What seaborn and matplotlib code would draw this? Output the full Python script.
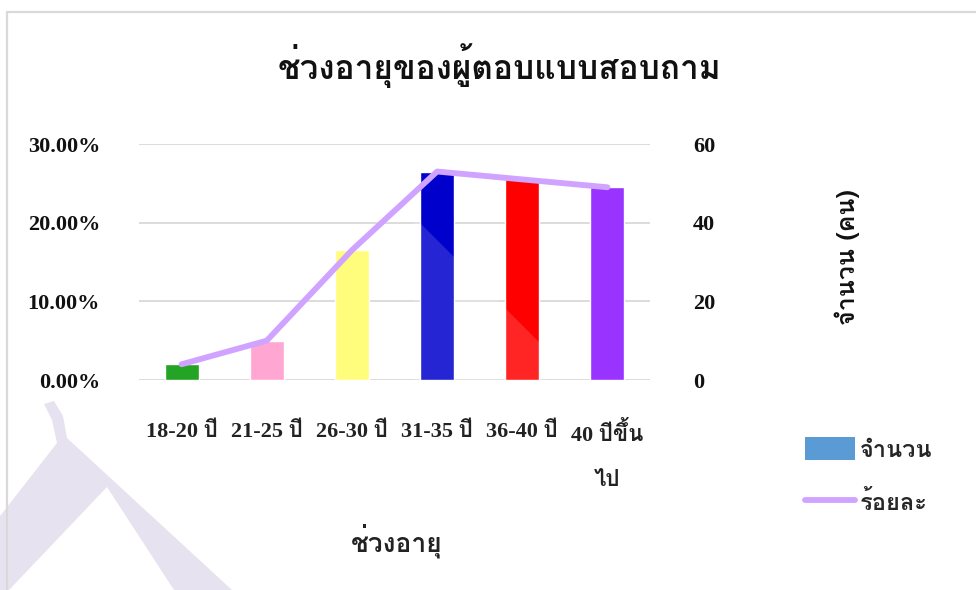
import matplotlib
matplotlib.use("Agg")
import matplotlib.pyplot as plt
from matplotlib import font_manager
from matplotlib.patches import Patch, Polygon, Rectangle
from matplotlib.lines import Line2D
import pandas as pd
import seaborn as sns

# ---- data -------------------------------------------------------------
age_groups = ["18-20 ปี", "21-25 ปี", "26-30 ปี", "31-35 ปี", "36-40 ปี", "40 ปีขึ้น\nไป"]
counts = [4, 10, 33, 53, 51, 49]                  # respondents (right axis)
percents = [2.0, 5.0, 16.5, 26.5, 25.5, 24.5]     # share of 200 respondents (left axis)
bar_colors = ["#24A424", "#FFA6D2", "#FFFD7B", "#0000CC", "#FF0000", "#9933FF"]
pct_ticks = [0, 10, 20, 30]
pct_labels = ["0.00%", "10.00%", "20.00%", "30.00%"]
count_ticks = [0, 20, 40, 60]

title = "ช่วงอายุของผู้ตอบแบบสอบถาม"
x_title = "ช่วงอายุ"
y_title = "จำนวน (คน)"
legend_labels = ["จำนวน", "ร้อยละ"]

LINE_COLOR = "#CFA3FF"
GRID_COLOR = "#D9D9D9"


def find_thai_family():
    """Return the family name of an installed font that covers Thai,
    preferring families that ship a bold face."""
    try:
        from fontTools.ttLib import TTFont
    except Exception:
        return None
    covers = {}
    for entry in font_manager.fontManager.ttflist:
        path = entry.fname
        if path in covers:
            continue
        ok = False
        try:
            f = TTFont(path, fontNumber=0, lazy=True)
            cmap = f.getBestCmap() or {}
            ok = all(cp in cmap for cp in (0x0E0A, 0x0E48, 0x0E33, 0x0E49))
            f.close()
        except Exception:
            ok = False
        covers[path] = ok
    fams = {}
    for e in font_manager.fontManager.ttflist:
        if covers.get(e.fname):
            w = e.weight if isinstance(e.weight, int) else 400
            fams.setdefault(e.name, set()).add(w)
    if not fams:
        return None
    preferred = ["TH Sarabun New", "TH SarabunPSK", "Angsana New", "Laksaman",
                 "Noto Serif Thai", "Norasi", "Noto Sans Thai", "Garuda", "Loma",
                 "Kinnari", "Sarabun", "Waree", "Sawasdee", "Umpush"]
    ranked = sorted(fams, key=lambda n: (max(fams[n]) < 600,
                                         preferred.index(n) if n in preferred else 99, n))
    return ranked[0]


thai = find_thai_family()
serif = ["Liberation Serif"] + ([thai] if thai else []) + ["DejaVu Sans"]
thai_first = ([thai] if thai else []) + ["Liberation Serif", "DejaVu Sans"]

sns.set_theme(style="white")
plt.rcParams["font.family"] = serif

W, H = 976, 590
fig = plt.figure(figsize=(W / 100, H / 100), dpi=100)
fig.patch.set_facecolor("white")


def px(x, y):
    return x / W, 1 - y / H


# faint lavender emblem in the lower-left corner
emblem = [(44, 404), (54, 401), (63, 416), (67, 438), (232, 590), (174, 590),
          (107, 487), (9, 590), (0, 590), (0, 516), (57, 443), (52, 420)]
fig.patches.append(Polygon([px(*p) for p in emblem], closed=True,
                           transform=fig.transFigure, facecolor="#E7E2F0",
                           edgecolor="none", zorder=0))
# chart frame
fig.patches.append(Rectangle(px(7, 600), (W + 20) / W, (600 - 12) / H,
                             transform=fig.transFigure, facecolor="none",
                             edgecolor=GRID_COLOR, linewidth=1.6, zorder=1))

# ---- axes ---------------------------------------------------------------
left, right, top, bottom = 139, 650, 144, 380
ax = fig.add_axes([left / W, 1 - bottom / H, (right - left) / W, (bottom - top) / H])
ax.set_facecolor("none")

df = pd.DataFrame({"age": age_groups, "count": counts, "pct": percents})

sns.barplot(data=df, x="age", y="count", hue="age", palette=bar_colors,
            width=0.4, saturation=1, legend=False, ax=ax, zorder=2)
ax.set_ylim(0, 60)
ax.set_yticks(count_ticks)
ax.yaxis.grid(True, color=GRID_COLOR, linewidth=1.3)
ax.set_axisbelow(True)

ax2 = ax.twinx()
sns.lineplot(data=df, x="age", y="pct", sort=False, color=LINE_COLOR,
             linewidth=4.2, ax=ax2)
for ln in ax2.lines:
    ln.set_solid_capstyle("round")
    ln.set_solid_joinstyle("round")
ax2.set_ylim(0, 30)
ax2.set_yticks(pct_ticks)
ax2.set_yticklabels(pct_labels)
ax2.grid(False)

# counts on the right, percentages on the left
ax.yaxis.tick_right()
ax2.yaxis.tick_left()

for a in (ax, ax2):
    for s in a.spines.values():
        s.set_visible(False)
    a.tick_params(length=0)
    a.set_xlabel("")
    a.set_ylabel("")

ax.set_xlim(-0.5, len(age_groups) - 0.5)
ax.tick_params(axis="x", pad=30)
ax.tick_params(axis="y", pad=31)
ax2.tick_params(axis="y", pad=28)

for lab in ax.get_yticklabels() + ax2.get_yticklabels():
    lab.set_fontsize(16)
    lab.set_fontweight("bold")
    lab.set_color("#111111")
for lab in ax.get_xticklabels():
    lab.set_fontsize(16)
    lab.set_fontweight("bold")
    lab.set_color("#222222")
    lab.set_linespacing(2.7)

# translucent sheen crossing the two tallest bars
sheen = [(414, 217), (546, 349), (546, 380), (414, 380)]
fig.patches.append(Polygon([px(*p) for p in sheen], closed=True,
                           transform=fig.transFigure, facecolor="white",
                           alpha=0.15, edgecolor="none", zorder=5))

# ---- text -------------------------------------------------------------
fig.text(*px(499, 66), title, ha="center", va="center", fontsize=24,
         fontweight="bold", family=thai_first, color="#111111")
fig.text(*px(397, 541), x_title, ha="center", va="center", fontsize=19,
         fontweight="bold", family=thai_first, color="#222222")
fig.text(*px(847, 257), y_title, ha="center", va="center", fontsize=18,
         fontweight="bold", rotation=90, family=thai_first, color="#111111")

handles = [Patch(facecolor="#5B9BD5", edgecolor="none"),
           Line2D([0], [0], color=LINE_COLOR, linewidth=4.2, solid_capstyle="round")]
fig.legend(handles, legend_labels, loc="upper left", bbox_to_anchor=px(796, 428),
           frameon=False, prop=dict(family=thai_first, size=17, weight="bold"),
           handlelength=2.1, handleheight=1.1, handletextpad=0.2,
           labelspacing=1.2, borderaxespad=0)

fig.savefig("out.png", dpi=100, facecolor="white")
